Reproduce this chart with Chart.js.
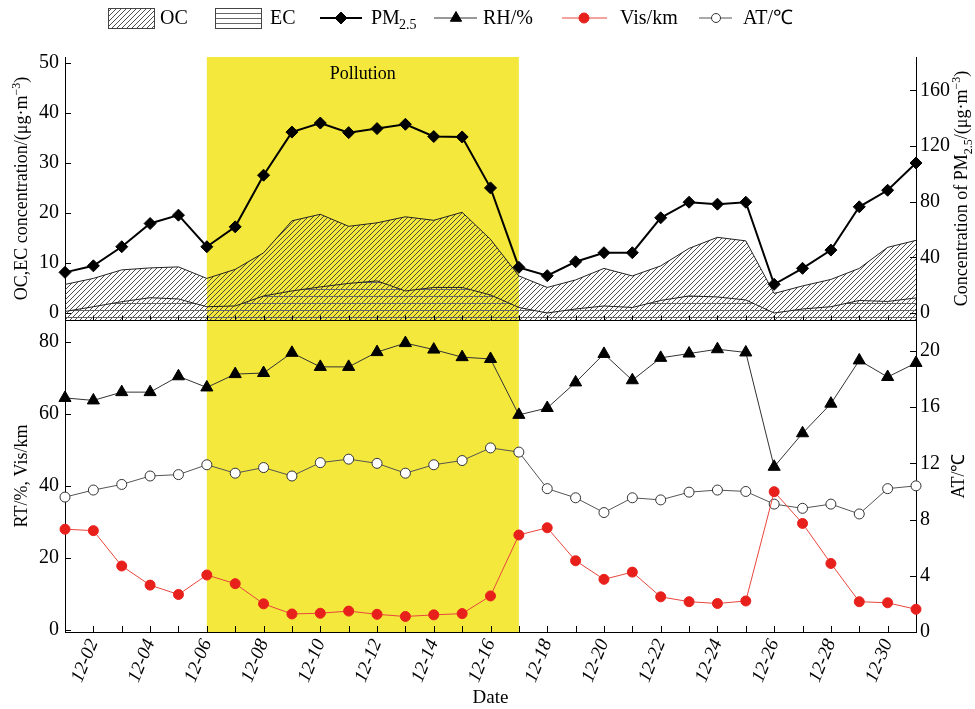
<!DOCTYPE html>
<html>
<head>
<meta charset="utf-8">
<script src="https://cdn.jsdelivr.net/npm/chart.js@4.4.1/dist/chart.umd.min.js"></script>
<style>
  html, body { margin: 0; padding: 0; background: #fff; }
  #wrap { width: 975px; height: 709px; }
</style>
</head>
<body>
<div id="wrap"><canvas id="chart" width="975" height="709"></canvas></div>
<script>
// ---- data ----
const days = ['12-01','12-02','12-03','12-04','12-05','12-06','12-07','12-08','12-09','12-10',
              '12-11','12-12','12-13','12-14','12-15','12-16','12-17','12-18','12-19','12-20',
              '12-21','12-22','12-23','12-24','12-25','12-26','12-27','12-28','12-29','12-30','12-31'];
const pollution = ['12-06', '12-17'];

const pm25 = [29.2, 33.9, 47.6, 64.3, 70.3, 47.6, 61.9, 99.0, 130.0, 136.5, 129.6, 132.5, 135.6, 126.8, 126.5,
              89.9, 32.8, 26.8, 36.8, 43.3, 43.3, 68.4, 79.6, 78.2, 79.6, 20.6, 32.1, 45.2, 76.3, 88.2, 107.8];
const oc   = [5.7, 6.9, 8.6, 9.0, 9.2, 6.9, 8.7, 12.0, 18.4, 19.7, 17.3, 18.0, 19.2, 18.5, 20.1,
              14.7, 7.4, 5.1, 6.6, 8.9, 7.4, 9.4, 12.9, 15.1, 14.4, 3.9, 5.4, 6.7, 8.9, 13.1, 14.5];
const ec   = [0.3, 1.25, 2.25, 3.05, 2.8, 1.25, 1.4, 3.4, 4.4, 5.2, 5.9, 6.4, 4.4, 5.1, 5.1,
              3.6, 1.1, 0, 0.8, 1.4, 1.1, 2.5, 3.4, 3.2, 2.6, 0, 0.8, 1.25, 2.5, 2.3, 3.0];
const rh   = [64.4, 63.7, 66.0, 66.0, 70.4, 67.3, 71.0, 71.3, 76.9, 73.0, 73.0, 77.1, 79.6, 77.8, 75.7,
              75.2, 59.7, 61.6, 68.7, 76.6, 69.3, 75.5, 76.7, 77.9, 77.0, 45.3, 54.6, 62.8, 74.8, 70.2, 74.1];
const vis  = [28.0, 27.6, 17.8, 12.5, 9.9, 15.3, 12.9, 7.3, 4.5, 4.7, 5.3, 4.4, 3.8, 4.25, 4.6,
              9.5, 26.4, 28.4, 19.25, 14.1, 16.1, 9.25, 7.9, 7.4, 8.1, 38.4, 29.6, 18.5, 7.9, 7.6, 5.8];
const at   = [9.6, 10.1, 10.5, 11.1, 11.2, 11.9, 11.3, 11.7, 11.1, 12.05, 12.3, 12.0, 11.3, 11.9, 12.2,
              13.1, 12.8, 10.2, 9.55, 8.5, 9.55, 9.4, 9.95, 10.1, 10.0, 9.1, 8.8, 9.1, 8.4, 10.2, 10.4];

// tick values (every entry gets a mark, labelled ones are the multiples of the step)
const ocTicks = [0, 5, 10, 15, 20, 25, 30, 35, 40, 45, 50];
const pmTicks = [0, 20, 40, 60, 80, 100, 120, 140, 160, 180];
const rhTicks = [0, 10, 20, 30, 40, 50, 60, 70, 80];
const atTicks = [0, 2, 4, 6, 8, 10, 12, 14, 16, 18, 20];

const SERIF = '"Liberation Serif", "Times New Roman", serif';
const YELLOW = '#f4e83c';

// ---- fill patterns ----
function makeHatch() {
    const c = document.createElement('canvas');
    c.width = 5; c.height = 5;
    const g = c.getContext('2d');
    g.strokeStyle = '#3a3a3a';
    g.lineWidth = 0.9;
    g.beginPath();
    g.moveTo(0, 5); g.lineTo(5, 0);
    g.moveTo(-1, 1); g.lineTo(1, -1);
    g.moveTo(4, 6); g.lineTo(6, 4);
    g.stroke();
    return g.createPattern(c, 'repeat');
}
function makeLines() {
    const c = document.createElement('canvas');
    c.width = 8; c.height = 7;
    const g = c.getContext('2d');
    g.strokeStyle = '#666';
    g.lineWidth = 1;
    g.beginPath();
    g.moveTo(0, 2.5); g.lineTo(8, 2.5);
    g.stroke();
    return g.createPattern(c, 'repeat');
}
const hatch = makeHatch();
const hlines = makeLines();

// ---- text with sub/superscripts ----
function richText(ctx, parts, cx, cy, size, angle) {
    ctx.save();
    ctx.translate(cx, cy);
    ctx.rotate(angle);
    ctx.fillStyle = '#000';
    ctx.textAlign = 'left';
    ctx.textBaseline = 'alphabetic';
    let total = 0;
    parts.forEach(p => {
        p.size = (p.sub || p.sup) ? Math.round(size * 0.68) : size;
        ctx.font = p.size + 'px ' + SERIF;
        p.w = ctx.measureText(p.t).width;
        total += p.w;
    });
    let x = -total / 2;
    const base = size * 0.33;
    parts.forEach(p => {
        ctx.font = p.size + 'px ' + SERIF;
        const dy = p.sub ? size * 0.28 : (p.sup ? -size * 0.4 : 0);
        ctx.fillText(p.t, x, base + dy);
        x += p.w;
    });
    ctx.restore();
}

function marker(ctx, style, r, x, y, fill, stroke) {
    ctx.save();
    ctx.fillStyle = fill;
    ctx.strokeStyle = stroke;
    ctx.lineWidth = 1;
    Chart.helpers.drawPoint(ctx, { pointStyle: style, radius: r, borderWidth: 1, rotation: 0 }, x, y);
    ctx.restore();
}

function legendLine(ctx, x0, x1, y, color, width) {
    ctx.save();
    ctx.strokeStyle = color;
    ctx.lineWidth = width;
    ctx.beginPath();
    ctx.moveTo(x0, y); ctx.lineTo(x1, y);
    ctx.stroke();
    ctx.restore();
}

function drawLegend(ctx) {
    const cy = 18;
    ctx.save();
    ctx.font = '20px ' + SERIF;
    ctx.textBaseline = 'middle';
    ctx.textAlign = 'left';

    ctx.fillStyle = hatch;
    ctx.fillRect(108, 8, 46, 20);
    ctx.strokeStyle = '#444';
    ctx.lineWidth = 1;
    ctx.strokeRect(108.5, 8.5, 46, 20);
    ctx.fillStyle = '#000';
    ctx.fillText('OC', 160, cy + 1);

    ctx.strokeStyle = '#666';
    ctx.beginPath();
    [13.5, 18.5, 23.5].forEach(y => { ctx.moveTo(215, y); ctx.lineTo(261, y); });
    ctx.stroke();
    ctx.strokeStyle = '#444';
    ctx.strokeRect(215.5, 8.5, 46, 20);
    ctx.fillText('EC', 270, cy + 1);

    legendLine(ctx, 320, 362, cy, '#000', 2);
    marker(ctx, 'rectRot', 6, 341, cy, '#000', '#000');
    ctx.fillStyle = '#000';
    ctx.fillText('PM', 371, cy + 1);
    ctx.font = '14px ' + SERIF;
    ctx.fillText('2.5', 399, cy + 7);
    ctx.font = '20px ' + SERIF;

    legendLine(ctx, 434, 477, cy, '#333', 1);
    marker(ctx, 'triangle', 6.5, 456, cy, '#000', '#000');
    ctx.fillStyle = '#000';
    ctx.fillText('RH/%', 483, cy + 1);

    legendLine(ctx, 562, 607, cy, '#e8463c', 1);
    marker(ctx, 'circle', 5, 584, cy, '#e8201c', '#e8201c');
    ctx.fillStyle = '#000';
    ctx.fillText('Vis/km', 620, cy + 1);

    legendLine(ctx, 699, 732, cy, '#555', 1);
    marker(ctx, 'circle', 4.5, 716, cy, '#fff', '#333');
    ctx.fillStyle = '#000';
    ctx.fillText('AT/℃', 743, cy + 1);
    ctx.restore();
}

// inward tick marks for a vertical scale
function yTicks(ctx, scale, step, side) {
    const x = side === 'left' ? scale.right : scale.left;
    const dir = side === 'left' ? 1 : -1;
    ctx.beginPath();
    scale.ticks.forEach(t => {
        const y = Math.round(scale.getPixelForValue(t.value)) + 0.5;
        const len = t.value % step === 0 ? 6 : 3;
        ctx.moveTo(x, y);
        ctx.lineTo(x + dir * len, y);
    });
    ctx.stroke();
}

// ---- plugin: pollution band, panel divider, ticks, titles, legend ----
const panelPlugin = {
    id: 'panels',
    beforeDraw(chart) {
        const { ctx, chartArea, scales } = chart;
        const xs = scales.x;
        const x0 = xs.getPixelForValue(days.indexOf(pollution[0]));
        const x1 = xs.getPixelForValue(days.indexOf(pollution[1]));
        ctx.save();
        ctx.fillStyle = YELLOW;
        ctx.fillRect(x0, chartArea.top, x1 - x0, chartArea.bottom - chartArea.top);
        ctx.fillStyle = '#000';
        ctx.font = '18px ' + SERIF;
        ctx.textAlign = 'center';
        ctx.textBaseline = 'middle';
        ctx.fillText('Pollution', (x0 + x1) / 2, chartArea.top + 17);
        ctx.restore();
    },
    afterDraw(chart) {
        const { ctx, chartArea, scales } = chart;
        const xs = scales.x;
        const yTop = scales.yOC;
        const yBot = scales.yRH;
        ctx.save();
        ctx.strokeStyle = '#000';
        ctx.lineWidth = 1;

        // divider between the two panels
        const dy = Math.round(yTop.bottom) + 0.5;
        ctx.beginPath();
        ctx.moveTo(chartArea.left, dy);
        ctx.lineTo(chartArea.right, dy);
        ctx.stroke();

        // day ticks pointing up, on both panels
        ctx.beginPath();
        days.forEach((d, i) => {
            const x = Math.round(xs.getPixelForValue(i)) + 0.5;
            ctx.moveTo(x, dy); ctx.lineTo(x, dy - 5);
            ctx.moveTo(x, chartArea.bottom); ctx.lineTo(x, chartArea.bottom - 6);
        });
        ctx.stroke();

        yTicks(ctx, scales.yOC, 10, 'left');
        yTicks(ctx, scales.yRH, 20, 'left');
        yTicks(ctx, scales.yPM, 40, 'right');
        yTicks(ctx, scales.yAT, 4, 'right');
        ctx.restore();

        // axis titles
        const midTop = (yTop.top + yTop.bottom) / 2;
        const midBot = (yBot.top + yBot.bottom) / 2;
        richText(ctx, [{ t: 'OC,EC concentration/(μg·m' }, { t: '−3', sup: true }, { t: ')' }],
                 21, midTop, 18, -Math.PI / 2);
        richText(ctx, [{ t: 'RT/%, Vis/km' }], 21, midBot, 18, -Math.PI / 2);
        richText(ctx, [{ t: 'Concentration of PM' }, { t: '2.5', sub: true }, { t: '/(μg·m' },
                       { t: '−3', sup: true }, { t: ')' }],
                 961, midTop, 18, -Math.PI / 2);
        richText(ctx, [{ t: 'AT/℃' }], 958, midBot, 18, -Math.PI / 2);

        drawLegend(ctx);
    }
};

// ---- axis helpers ----
const tickFont = { family: SERIF, size: 20 };
function yAxis(extra, tickList, step, side) {
    return Object.assign({
        position: side,
        grid: { display: false, drawTicks: false },
        border: { display: true, color: '#000', width: 1 },
        afterBuildTicks: s => { s.ticks = tickList.map(v => ({ value: v })); },
        afterFit: s => { s.width = side === 'left' ? 65 : 59; },
        ticks: {
            font: tickFont,
            color: '#000',
            padding: side === 'left' ? 6 : 4,
            callback: v => (v % step === 0 ? String(v) : '')
        }
    }, extra);
}

const ctx = document.getElementById('chart').getContext('2d');
new Chart(ctx, {
    type: 'line',
    data: {
        labels: days,
        datasets: [
            {
                label: 'PM2.5', data: pm25, yAxisID: 'yPM',
                borderColor: '#000', borderWidth: 2,
                pointStyle: 'rectRot', pointRadius: 6,
                pointBackgroundColor: '#000', pointBorderColor: '#000', pointBorderWidth: 1
            },
            {
                label: 'RH/%', data: rh, yAxisID: 'yRH',
                borderColor: '#333', borderWidth: 1,
                pointStyle: 'triangle', pointRadius: 7,
                pointBackgroundColor: '#000', pointBorderColor: '#000', pointBorderWidth: 1
            },
            {
                label: 'Vis/km', data: vis, yAxisID: 'yRH',
                borderColor: '#e8463c', borderWidth: 1,
                pointStyle: 'circle', pointRadius: 5,
                pointBackgroundColor: '#e8201c', pointBorderColor: '#e8201c', pointBorderWidth: 1
            },
            {
                label: 'AT/℃', data: at, yAxisID: 'yAT',
                borderColor: '#555', borderWidth: 1,
                pointStyle: 'circle', pointRadius: 5,
                pointBackgroundColor: '#fff', pointBorderColor: '#333', pointBorderWidth: 1
            },
            {
                label: 'EC', data: ec, yAxisID: 'yOC',
                borderColor: '#222', borderWidth: 1, pointRadius: 0,
                fill: 'start', backgroundColor: hlines
            },
            {
                label: 'OC', data: oc, yAxisID: 'yOC',
                borderColor: '#222', borderWidth: 1, pointRadius: 0,
                fill: 'start', backgroundColor: hatch
            }
        ]
    },
    options: {
        responsive: false,
        animation: false,
        layout: { padding: { top: 57, left: 0, right: 0, bottom: 0 } },
        elements: { line: { tension: 0 } },
        plugins: {
            legend: { display: false },
            tooltip: { enabled: false }
        },
        scales: {
            x: {
                type: 'category',
                offset: false,
                grid: { display: false, drawTicks: false },
                border: { display: true, color: '#000', width: 1 },
                afterFit: s => { s.height = 77; },
                ticks: {
                    autoSkip: false,
                    minRotation: 68,
                    maxRotation: 68,
                    padding: 4,
                    color: '#000',
                    font: { family: SERIF, size: 19, style: 'italic' },
                    callback: (v, i) => (i % 2 === 1 ? days[i] : '')
                },
                title: {
                    display: true, text: 'Date', color: '#000', padding: 0,
                    font: { family: SERIF, size: 19 }
                }
            },
            yOC: yAxis({ stack: 'L', stackWeight: 263, weight: 2, min: -1.4, max: 51.1 }, ocTicks, 10, 'left'),
            yRH: yAxis({ stack: 'L', stackWeight: 312, weight: 1, min: -0.5, max: 86 }, rhTicks, 20, 'left'),
            yPM: yAxis({ stack: 'R', stackWeight: 263, weight: 1, min: -5.04, max: 183.96 }, pmTicks, 40, 'right'),
            yAT: yAxis({ stack: 'R', stackWeight: 312, weight: 2, min: 0, max: 22.2 }, atTicks, 4, 'right')
        }
    },
    plugins: [panelPlugin]
});
</script>
</body>
</html>
